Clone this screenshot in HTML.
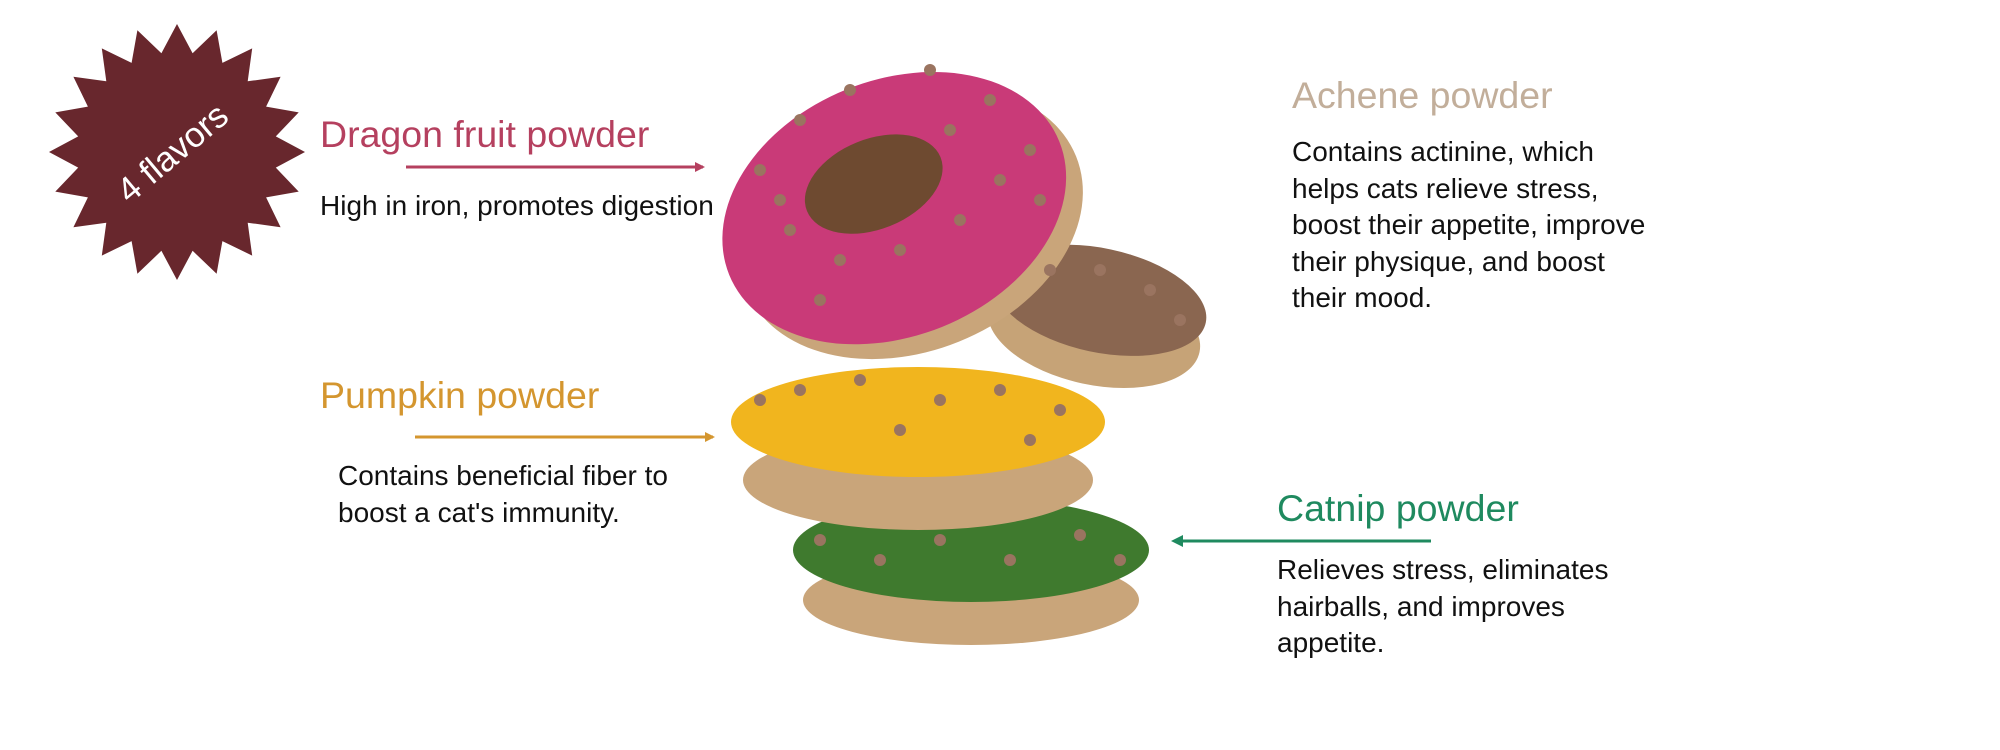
<!DOCTYPE html>
<html><head><meta charset="utf-8"><style>
html,body{margin:0;padding:0;background:#fff}
#c{position:relative;width:2000px;height:750px;overflow:hidden;font-family:"Liberation Sans",sans-serif}
.t{position:absolute;white-space:nowrap}
.h{font-size:37.5px}
.b{font-size:28px;line-height:36.5px;color:#111}
</style></head><body><div id="c">
<svg width="2000" height="750" style="position:absolute;left:0;top:0">
<defs>
<marker id="mp" markerWidth="10" markerHeight="10" refX="8" refY="5" orient="auto" markerUnits="userSpaceOnUse"><path d="M0,0 L10,5 L0,10 z" fill="#b5405f"/></marker>
<marker id="my" markerWidth="10" markerHeight="10" refX="8" refY="5" orient="auto" markerUnits="userSpaceOnUse"><path d="M0,0 L10,5 L0,10 z" fill="#d4962f"/></marker>
<marker id="mg" markerWidth="12" markerHeight="12" refX="9" refY="6" orient="auto" markerUnits="userSpaceOnUse"><path d="M0,0 L12,6 L0,12 z" fill="#1f8a5f"/></marker>
</defs>
<polygon id="star" fill="#68272d"/>
<text x="0" y="0" transform="translate(180,162) rotate(-40)" text-anchor="middle" font-family="Liberation Sans" font-size="35" fill="#fff">4 flavors</text>
<line x1="406" y1="167" x2="703" y2="167" stroke="#b5405f" stroke-width="3" marker-end="url(#mp)"/>
<line x1="415" y1="437" x2="713" y2="437" stroke="#d4962f" stroke-width="3" marker-end="url(#my)"/>
<line x1="1431" y1="541" x2="1174" y2="541" stroke="#1f8a5f" stroke-width="3" marker-end="url(#mg)"/>
<ellipse cx="971" cy="600" rx="168" ry="45" fill="#c9a57a"/>
<ellipse cx="971" cy="550" rx="178" ry="52" fill="#3f7a2e"/>
<ellipse cx="918" cy="480" rx="175" ry="50" fill="#c9a57a"/>
<ellipse cx="918" cy="422" rx="187" ry="55" fill="#f1b51e"/>
<g transform="rotate(12 1097 315)">
<ellipse cx="1097" cy="330" rx="108" ry="55" fill="#c6a377"/>
<ellipse cx="1097" cy="300" rx="108" ry="52" fill="#8a6650"/>
</g>
<g transform="rotate(-22 895 210)">
<ellipse cx="905" cy="228" rx="178" ry="128" fill="#c9a57a"/>
<ellipse cx="895" cy="208" rx="178" ry="128" fill="#c93a78"/>
<ellipse cx="885" cy="178" rx="72" ry="45" fill="#6e4a30"/>
</g>
<g id="dots" fill="#9a7460"></g>
</svg>
<div class="t h" style="left:320px;top:113px;color:#b5405f">Dragon fruit powder</div>
<div class="t b" style="left:320px;top:188px">High in iron, promotes digestion</div>
<div class="t h" style="left:1292px;top:74px;color:#c2ae9a">Achene powder</div>
<div class="t b" style="left:1292px;top:134px">Contains actinine, which<br>helps cats relieve stress,<br>boost their appetite, improve<br>their physique, and boost<br>their mood.</div>
<div class="t h" style="left:320px;top:374px;color:#d4962f">Pumpkin powder</div>
<div class="t b" style="left:338px;top:458px">Contains beneficial fiber to<br>boost a cat's immunity.</div>
<div class="t h" style="left:1277px;top:487px;color:#1f8a5f">Catnip powder</div>
<div class="t b" style="left:1277px;top:552px">Relieves stress, eliminates<br>hairballs, and improves<br>appetite.</div>
</div>
<script>
var p=[],cx=177,cy=152,n=20;
for(var i=0;i<2*n;i++){var r=i%2?100:128,a=Math.PI*i/n-Math.PI/2;p.push((cx+r*Math.cos(a)).toFixed(1)+","+(cy+r*Math.sin(a)).toFixed(1));}
document.getElementById('star').setAttribute('points',p.join(' '));
var pts=[[760,170],[800,120],[850,90],[930,70],[990,100],[1030,150],[1040,200],[790,230],[840,260],[900,250],[960,220],[1000,180],[820,300],[780,200],[950,130],[760,400],[800,390],[860,380],[940,400],[1000,390],[1060,410],[900,430],[1030,440],[820,540],[880,560],[940,540],[1010,560],[1080,535],[1120,560],[1100,270],[1150,290],[1180,320],[1050,270]];
var g=document.getElementById('dots'),s='';
pts.forEach(function(q){s+='<circle cx="'+q[0]+'" cy="'+q[1]+'" r="6"/>';});
g.innerHTML=s;
</script>
</body></html>
